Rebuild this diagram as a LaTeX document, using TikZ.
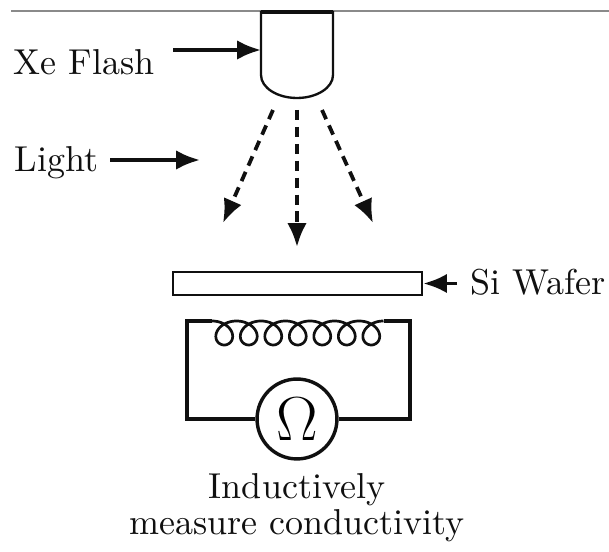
\documentclass[tikz,border=0pt]{standalone}
\usetikzlibrary{arrows.meta, positioning}
\definecolor{ceilC}{HTML}{8A8A8A}
\definecolor{inkC}{HTML}{101010}
\def\lwWire{0.95pt}
\def\lwArrow{1.05pt}
\def\lwBox{0.65pt}
\def\lwCoil{0.75pt}
\def\lwCeil{0.5pt}
\def\lampL{261}
\def\lampR{333}
\def\lampTop{12}
\def\lampSide{75}
\def\lampBot{98}
\def\loopL{187}
\def\loopR{410}
\def\loopTop{321}
\def\loopBot{419}
\def\coilX{212}
\def\coilY{333}
\def\coilPitch{3.9}
\def\coilRx{14}
\def\coilRy{12}

\tikzset{
  pointer/.style={inkC, -{Latex[length=6.6pt, width=5.4pt]}, line width=\lwArrow},
  ray/.style={pointer, dash pattern=on 2.8pt off 1.9pt},
  tag/.style={inkC, inner sep=0pt, anchor=base west},
}

\begin{document}
\begin{tikzpicture}[x=0.2778pt, y=-0.2778pt, line cap=butt, line join=miter]
  \useasboundingbox (0,0) rectangle (609,552);

  % Ceiling
  \draw[ceilC, line width=\lwCeil] (11,11) -- (609,11);

  % Xe lamp: flat top, straight sides, rounded bottom
  \draw[inkC, line width=\lwBox, fill=white]
    (\lampL, \lampTop) -- (\lampL, \lampSide)
    .. controls (\lampL, 87.7) and (277.1, \lampBot) .. (297, \lampBot)
    .. controls (316.9, \lampBot) and (\lampR, 87.7) .. (\lampR, \lampSide)
    -- (\lampR, \lampTop) -- cycle;
  \draw[inkC, line width=\lwWire] (\lampL, \lampTop) -- (\lampR, \lampTop);
  \coordinate (flashin) at (\lampL, 50);

  % Wafer
  \node[draw=inkC, line width=\lwBox, inner sep=0pt,
        minimum width=69.2pt, minimum height=6.4pt] (wafer) at (297.5, 283.5) {};

  % Pick-up loop with coil and ohmmeter
  \node[draw=inkC, circle, line width=\lwWire, fill=white, inner sep=0pt,
        minimum size=22.2pt] (meter) at (297, \loopBot)
        {\fontsize{19}{22}\selectfont$\Omega$};
  \coordinate (coilin) at (\coilX, \loopTop);
  \coordinate (coilout) at ({\coilX + 14*pi*\coilPitch}, \loopTop);
  \draw[inkC, line width=\lwWire]
    (meter.west) -- (\loopL, \loopBot) -- (\loopL, \loopTop) -- (coilin);
  \draw[inkC, line width=\lwWire]
    (coilout) -- (\loopR, \loopTop) -- (\loopR, \loopBot) -- (meter.east);
  \draw[inkC, line width=\lwCoil, smooth]
    plot[domain=0:14*pi, samples=420, variable=\t]
      ({\coilX + \coilPitch*\t + \coilRx*sin(\t r)}, {\coilY - \coilRy*cos(\t r)});

  % Labels
  \node[tag] (xe) at (13, 75) {Xe Flash};
  \node[tag] (light) at (14, 172) {Light};
  \node[tag] (si) at (470, 295) {Si Wafer};
  \node[inkC, inner sep=0pt, anchor=base] (ind) at (297, 499) {Inductively};
  \node[inkC, inner sep=0pt, anchor=base] (meas) at (297, 535) {measure conductivity};

  % Pointers
  \coordinate (xetail) at (173, 50);
  \coordinate (lighttail) at (110, 160);
  \coordinate (lighttip) at (200, 160);
  \coordinate (sitail) at (457, 283.5);
  \draw[pointer] (xetail) -- (flashin);
  \draw[pointer] (lighttail) -- (lighttip);
  \draw[pointer] (sitail) -- (wafer.east);

  % Light rays
  \coordinate (rayLs) at (273, 110);
  \coordinate (rayLe) at (223, 223);
  \coordinate (rayMs) at (297, 110);
  \coordinate (rayMe) at (297, 247);
  \coordinate (rayRs) at (322, 110);
  \coordinate (rayRe) at (373, 223);
  \draw[ray] (rayLs) -- (rayLe);
  \draw[ray] (rayMs) -- (rayMe);
  \draw[ray] (rayRs) -- (rayRe);
\end{tikzpicture}
\end{document}
